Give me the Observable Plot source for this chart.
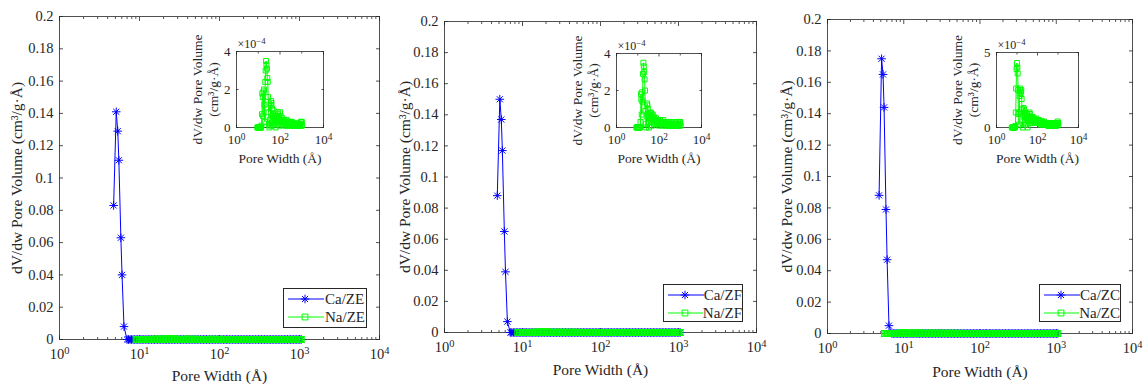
<!DOCTYPE html>
<html><head><meta charset="utf-8">
<script src="https://cdn.jsdelivr.net/npm/d3@7"></script>
<script src="https://cdn.jsdelivr.net/npm/@observablehq/plot@0.6"></script>
<style>
body{margin:0;background:#fff;}
#root{position:relative;width:1143px;height:384px;overflow:hidden;font-family:"Liberation Serif","Times New Roman",serif;color:#262626;background:#fff;}
#root > svg, #root > div{position:absolute;}
.legend{border:1px solid #262626;background:#fff;box-sizing:border-box;font-size:15px;line-height:18px;padding-top:1px;}
.legend .row{display:flex;align-items:center;height:18px;}
.legend svg{display:block;}
</style></head><body><div id="root"></div>
<script>
// ---- data ----
const samples = ["ZE", "ZF", "ZC"];
// pore width grid (Å)
const poreWidth = [
  5.6, 5.85, 6.11, 6.39, 6.68, 6.98, 7.29, 7.62, 7.96, 8.32,
  8.70, 9.09, 9.50, 9.92, 10.4, 10.8, 11.3, 11.8, 12.4, 12.9,
  13.5, 14.1, 14.8, 15.4, 16.1, 16.8, 17.6, 18.4, 19.2, 20.1,
  21.0, 21.9, 22.9, 23.9, 25.0, 26.1, 27.3, 28.5, 29.8, 31.2,
  32.6, 34.0, 35.6, 37.2, 38.8, 40.6, 42.4, 44.3, 46.3, 48.4,
  50.6, 52.8, 55.2, 57.7, 60.3, 63.0, 65.8, 68.8, 71.9, 75.1,
  78.5, 82.0, 85.7, 89.6, 93.6, 97.8, 102, 107, 112, 117,
  122, 127, 133, 139, 145, 152, 159, 166, 173, 181,
  189, 198, 207, 216, 226, 236, 246, 257, 269, 281,
  294, 307, 321, 335, 350, 366, 382, 400, 418, 436,
  456, 477, 498, 520, 544, 568, 594, 621, 649, 678,
  708, 740, 774, 808, 845, 883, 922, 964, 1007, 1050];
// Ca samples: micropore peak (Å) and values (cm³/g·Å)
const caPeakWidth = [4.75, 5.12, 5.35, 5.52, 5.85, 6.05, 6.4];
const caPeakZE = [0.083, 0.141, 0.129, 0.111, 0.063, 0.040, 0.008];
const caPeakZF = [0.088, 0.150, 0.137, 0.117, 0.065, 0.039, 0.007];
const caPeakZC = [0.088, 0.175, 0.165, 0.144, 0.079, 0.047, 0.005];
// Ca tail, on poreWidth from 6.98 Å upward (all read as zero)
const caTail = [
  0,0,0,0,0,0,0,0,0,0, 0,0,0,0,0,0,0,0,0,0, 0,0,0,0,0,0,0,0,0,0,
  0,0,0,0,0,0,0,0,0,0, 0,0,0,0,0,0,0,0,0,0, 0,0,0,0,0,0,0,0,0,0,
  0,0,0,0,0,0,0,0,0,0, 0,0,0,0,0,0,0,0,0,0, 0,0,0,0,0,0,0,0,0,0,
  0,0,0,0,0,0,0,0,0,0, 0,0,0,0,0,0,0,0,0,0, 0,0,0,0,0];
// Na samples on poreWidth, in units of 1e-4 cm³/g·Å (null = not measured)
const naZE = [
  null,null,null,null,null,null,null,null,null,null,
  null,0,0,0,0,0,0,0,0,0,
  0,0.1,0.7,1.8,1.6,0.6,1.9,2.0,1.2,0.3,
  2.4,3.0,3.5,3.3,3.1,2.6,2.4,1.6,0.8,0.2,
  0,0.4,0.1,1.2,1.4,1.3,1.0,0.6,0.1,0.7,
  0.9,0.5,0.2,0.6,0.4,0,0.3,0.6,0.5,0.2,
  0.8,0.7,0.3,0.5,0.1,0.4,0.8,0.6,0.4,0.3,
  0.5,0.2,0.4,0.3,0.1,0.3,0.4,0.2,0.3,0.1,
  0.3,0.4,0.2,0.3,0.1,0.2,0.3,0.2,0.1,0.2,
  0.3,0.2,0.1,0.2,0.3,0.2,0.1,0.2,0.2,0.1,
  0.1,0.2,0.1,0.1,0.2,0.1,0.2,0.1,0.1,0.2,
  0.1,0.2,0.1,0.2,0.1,0.2,0.3,0.1,0.3,0.1];
const naZF = [
  null,null,null,null,null,null,null,null,null,null,
  0,0,0,0,0,0,0,0,0,0,
  0.3,1.8,1.5,0.7,1.9,1.4,2.9,3.5,3.3,3.0,
  2.6,2.0,0.9,0.2,0,0.6,1.3,1.2,1.0,0.7,
  0.3,0,0.5,0.8,0.6,0.5,0.8,0.7,0.1,0.5,
  0.7,0.4,0.6,0.2,0.5,0.3,0.4,0.2,0.5,0.3,
  0.4,0.2,0.3,0.4,0.2,0.3,0.1,0.3,0.4,0.2,
  0.3,0.2,0.3,0.1,0.3,0.2,0.4,0.2,0.3,0.2,
  0.3,0.1,0.2,0.3,0.2,0.1,0.2,0.3,0.2,0.1,
  0.2,0.3,0.1,0.2,0.1,0.2,0.3,0.2,0.1,0.2,
  0.1,0.2,0.1,0.2,0.1,0.2,0.1,0.2,0.3,0.1,
  0.2,0.1,0.2,0.3,0.2,0.1,0.3,0.2,0.3,0.1];
const naZC = [
  0,0,0,0,0,0,0,0,0,0.1,
  1.0,2.6,3.9,4.3,4.0,3.6,2.5,0.9,0.2,1.0,
  2.1,2.6,2.4,2.3,2.5,1.9,1.2,0.4,0,0.8,
  1.3,1.2,1.0,0.8,0.5,1.0,0.2,0.7,0.9,0.6,
  0,0.7,0.5,0.8,0.4,1.0,0.9,0.6,0.3,0.7,
  0.5,0.6,0.4,0.7,0.5,0.3,0.5,0.6,0.4,0.3,
  0.5,0.4,0.6,0.3,0.4,0.5,0.3,0.4,0.3,0.5,
  0.4,0.3,0.4,0.3,0.2,0.4,0.3,0.4,0.2,0.3,
  0.3,0.2,0.4,0.3,0.2,0.3,0.2,0.3,0.2,0.3,
  0.2,0.3,0.2,0.1,0.3,0.2,0.3,0.2,0.2,0.1,
  0.2,0.3,0.2,0.1,0.2,0.3,0.2,0.1,0.2,0.3,
  0.2,0.3,0.2,0.1,0.3,0.2,0.3,0.4,0.3,0.2];
const xTicks = [1, 10, 100, 1000, 10000];
const xMinor = [2,3,4,5,6,7,8,9,20,30,40,50,60,70,80,90,200,300,400,500,600,700,800,900,2000,3000,4000,5000,6000,7000,8000,9000];
const yTicksMain = [0, 0.02, 0.04, 0.06, 0.08, 0.1, 0.12, 0.14, 0.16, 0.18, 0.2];
const insetXTicks = [1, 100, 10000];
const insetXMinor = [10, 1000];
const insetYTicks = {ZE: [0, 2, 4], ZF: [0, 2, 4], ZC: [0, 5]};
const insetYMax = {ZE: 4, ZF: 4, ZC: 5};
const caSeries = {ZE: caPeakZE, ZF: caPeakZF, ZC: caPeakZC};
const naSeries = {ZE: naZE, ZF: naZF, ZC: naZC};

// ---- layout ----
const layout = {
  ZE: {left: 0, w: 390, m: [16, 11, 45, 59], ylab: -42, xlab: 37,
       inset: {left: 170, m: [51, 17, 48, 66]}, legend: [283, 288, 84, 40]},
  ZF: {left: 380, w: 390, m: [21, 14, 52, 64], ylab: -39, xlab: 38,
       inset: {left: 550, m: [53, 19, 48, 66]}, legend: [663, 284, 80, 38]},
  ZC: {left: 760, w: 383, m: [19, 11, 51, 67], ylab: -40, xlab: 39,
       inset: {left: 928, m: [52, 20, 48, 68]}, legend: [1039, 284, 82, 38]}
};
const INK = "#262626", BLUE = "#0000ff", GREEN = "#00ff00";
const FONT = '"Liberation Serif","Times New Roman",serif';
const powFmt = d => "10^" + Math.round(Math.log10(d));
const blank = () => "";
const root = document.getElementById("root");

// 8-armed asterisk like MATLAB's '*' marker
const star8 = {
  draw(ctx, size) {
    const r = Math.sqrt(size / Math.PI);
    const q = r * Math.SQRT1_2;
    ctx.moveTo(0, -r); ctx.lineTo(0, r);
    ctx.moveTo(-r, 0); ctx.lineTo(r, 0);
    ctx.moveTo(-q, -q); ctx.lineTo(q, q);
    ctx.moveTo(-q, q); ctx.lineTo(q, -q);
  }
};

function boxTicks(ticks, minor, yTicks, big, small) {
  const o = {tickFormat: blank, label: null, strokeWidth: 0.8, stroke: INK};
  const marks = [
    Plot.axisX({...o, anchor: "bottom", ticks, tickSize: -big}),
    Plot.axisX({...o, anchor: "top", ticks, tickSize: -big}),
    Plot.axisY({...o, anchor: "left", ticks: yTicks, tickSize: -big}),
    Plot.axisY({...o, anchor: "right", ticks: yTicks, tickSize: -big})
  ];
  if (minor) {
    marks.push(Plot.axisX({...o, anchor: "bottom", ticks: minor, tickSize: -small}));
    marks.push(Plot.axisX({...o, anchor: "top", ticks: minor, tickSize: -small}));
  }
  return marks;
}

// turn "10^n" / "×10^-n" labels into text with a raised exponent
function superscripts(svg) {
  d3.select(svg).selectAll("text").each(function () {
    const m = /^(×?10)\^(-?\d+)$/.exec(this.textContent);
    if (!m) return;
    const sel = d3.select(this);
    sel.text(null);
    sel.append("tspan").text(m[1]);
    sel.append("tspan").attr("dy", "-0.45em").attr("font-size", "72%").text(m[2].replace("-", "−"));
  });
}

for (const s of samples) {
  const L = layout[s];
  const ca = caPeakWidth.map((w, i) => ({w, v: caSeries[s][i]}))
    .concat(poreWidth.slice(5).map((w, i) => ({w, v: caTail[i]})));
  const na = poreWidth.map((w, i) => ({w, v: naSeries[s][i]})).filter(d => d.v != null);

  const main = Plot.plot({
    width: L.w, height: 384,
    marginTop: L.m[0], marginRight: L.m[1], marginBottom: L.m[2], marginLeft: L.m[3],
    x: {type: "log", domain: [1, 1e4], label: null},
    y: {domain: [0, 0.2], label: null},
    style: {fontFamily: FONT, fontSize: "14px", color: INK, background: "transparent", overflow: "visible"},
    marks: [
      Plot.frame({stroke: INK, strokeWidth: 0.8}),
      ...boxTicks(xTicks, xMinor, yTicksMain, 4, 2),
      Plot.axisX({ticks: xTicks, tickSize: 0, tickPadding: 9, tickFormat: powFmt, label: null, fontSize: 14.5}),
      Plot.axisY({ticks: yTicksMain, tickSize: 0, tickPadding: 6, tickFormat: d => String(+d.toFixed(2)), label: null, fontSize: 14.5}),
      Plot.line(ca, {x: "w", y: "v", stroke: BLUE, strokeWidth: 1}),
      Plot.dot(ca, {x: "w", y: "v", symbol: star8, r: 4.3, stroke: BLUE, strokeWidth: 1}),
      Plot.line(na, {x: "w", y: d => d.v * 1e-4, stroke: GREEN, strokeWidth: 1}),
      Plot.dot(na, {x: "w", y: d => d.v * 1e-4, symbol: "square", r: 3.3, stroke: GREEN, fill: "none", strokeWidth: 1.2}),
      Plot.text(["Pore Width (Å)"], {frameAnchor: "bottom", dy: L.xlab, fontSize: 15.5, fill: INK, textAnchor: "middle", lineAnchor: "middle"}),
      Plot.text(["dV/dw Pore Volume (cm³/g·Å)"], {frameAnchor: "left", dx: L.ylab, rotate: -90, fontSize: 15.5, fill: INK, textAnchor: "middle", lineAnchor: "middle"})
    ]
  });
  superscripts(main);
  main.style.left = L.left + "px"; main.style.top = "0px";
  root.appendChild(main);

  const I = L.inset;
  const inset = Plot.plot({
    width: 170, height: 175,
    marginTop: I.m[0], marginRight: I.m[1], marginBottom: I.m[2], marginLeft: I.m[3],
    x: {type: "log", domain: [1, 1e4], label: null},
    y: {domain: [0, insetYMax[s]], label: null},
    style: {fontFamily: FONT, fontSize: "13px", color: INK, background: "transparent", overflow: "visible"},
    marks: [
      Plot.frame({stroke: INK, strokeWidth: 0.8, fill: "white"}),
      ...boxTicks(insetXTicks, insetXMinor, insetYTicks[s], 2.5, 1.5),
      Plot.axisX({ticks: insetXTicks, tickSize: 0, tickPadding: 7, tickFormat: powFmt, label: null, fontSize: 13}),
      Plot.axisY({ticks: insetYTicks[s], tickSize: 0, tickPadding: 6, tickFormat: d => String(d), label: null, fontSize: 13}),
      Plot.line(na, {x: "w", y: "v", stroke: GREEN, strokeWidth: 1}),
      Plot.dot(na, {x: "w", y: "v", symbol: "square", r: 2.8, stroke: GREEN, fill: "none", strokeWidth: 1}),
      Plot.text(["×10^-4"], {frameAnchor: "top-left", dy: -7, dx: 1, textAnchor: "start", fontSize: 12, fill: INK, lineAnchor: "middle"}),
      Plot.text(["Pore Width (Å)"], {frameAnchor: "bottom", dy: 31, fontSize: 13.5, fill: INK, textAnchor: "middle", lineAnchor: "middle"}),
      Plot.text(["dV/dw Pore Volume"], {frameAnchor: "left", dx: -39, rotate: -90, fontSize: 13.5, fill: INK, textAnchor: "middle", lineAnchor: "middle"}),
      Plot.text(["(cm³/g·Å)"], {frameAnchor: "left", dx: -23, rotate: -90, fontSize: 13.5, fill: INK, textAnchor: "middle", lineAnchor: "middle"})
    ]
  });
  superscripts(inset);
  inset.style.left = I.left + "px"; inset.style.top = "0px";
  root.appendChild(inset);

  // legend
  const [lx, ly, lw, lh] = L.legend;
  const leg = document.createElement("div");
  leg.className = "legend";
  Object.assign(leg.style, {left: lx + "px", top: ly + "px", width: lw + "px", height: lh + "px"});
  const entries = [["Ca/" + s, BLUE, star8], ["Na/" + s, GREEN, d3.symbolSquare]];
  for (const [name, color, sym] of entries) {
    const row = document.createElement("div");
    row.className = "row";
    const sv = d3.create("svg").attr("width", 41).attr("height", 18);
    sv.append("line").attr("x1", 4).attr("x2", 40).attr("y1", 9).attr("y2", 9).attr("stroke", color);
    sv.append("path").attr("transform", "translate(21,9)")
      .attr("d", d3.symbol(sym, sym === star8 ? 58 : 34)())
      .attr("stroke", color).attr("fill", "none");
    row.appendChild(sv.node());
    const t = document.createElement("span");
    t.textContent = name;
    row.appendChild(t);
    leg.appendChild(row);
  }
  root.appendChild(leg);
}
</script></body></html>
